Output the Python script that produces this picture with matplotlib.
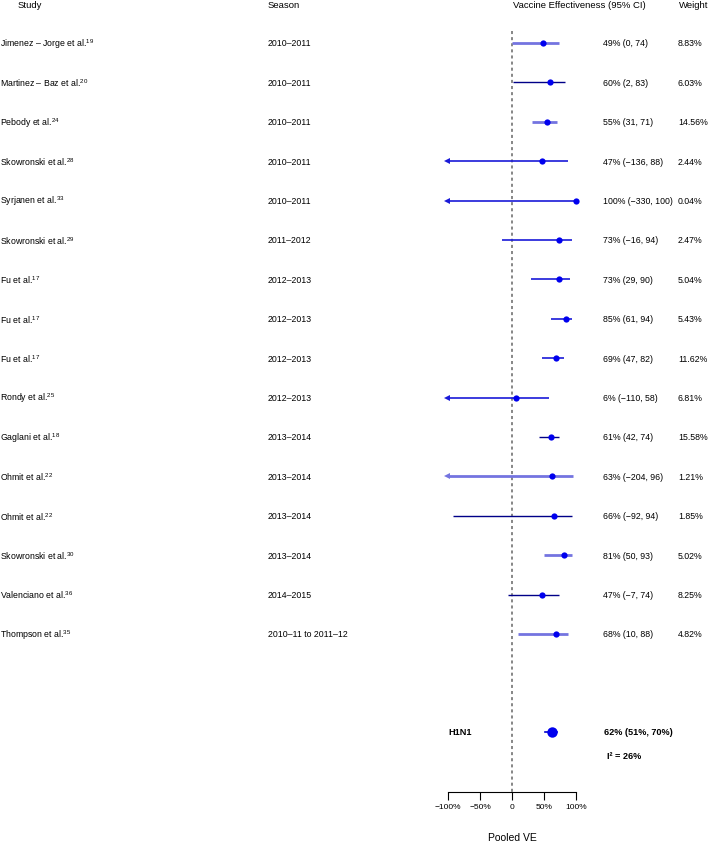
import matplotlib
matplotlib.use("Agg")
import matplotlib.pyplot as plt
import matplotlib.transforms as mtransforms

plt.rcParams['font.family'] = ['Liberation Sans', 'DejaVu Sans']
plt.rcParams['mathtext.fontset'] = 'custom'
plt.rcParams['mathtext.rm'] = 'Liberation Sans'

# donnees
studies = ["Jimenez \u2013 Jorge et al.", "Martinez \u2013 Baz et al.", "Pebody et al.",
           "Skowronski et al.", "Syrjanen et al.", "Skowronski et al.", "Fu et al.",
           "Fu et al.", "Fu et al.", "Rondy et al.", "Gaglani et al.", "Ohmit et al.",
           "Ohmit et al.", "Skowronski et al.", "Valenciano et al.", "Thompson et al."]
refs = ["19", "20", "24", "28", "33", "29", "17", "17", "17", "25", "18", "22", "22", "30", "36", "35"]
seasons = ["2010\u20132011"] * 5 + ["2011\u20132012"] + ["2012\u20132013"] * 4 + \
          ["2013\u20132014"] * 4 + ["2014\u20132015", "2010\u201311 to 2011\u201312"]
ve = [49, 60, 55, 47, 100, 73, 73, 85, 69, 6, 61, 63, 66, 81, 47, 68]
lo = [0, 2, 31, -136, -330, -16, 29, 61, 47, -110, 42, -204, -92, 50, -7, 10]
hi = [74, 83, 71, 88, 100, 94, 90, 94, 82, 58, 74, 96, 94, 93, 74, 88]
weights = ["8.83%", "6.03%", "14.56%", "2.44%", "0.04%", "2.47%", "5.04%", "5.43%",
           "11.62%", "6.81%", "15.58%", "1.21%", "1.85%", "5.02%", "8.25%", "4.82%"]
pooled_label = "H1N1"
pooled_ve, pooled_lo, pooled_hi = 62, 51, 70
i2 = 26
xticks = [-100, -50, 0, 50, 100]
xtick_labels = ["\u2212100%", "\u221250%", "0", "50%", "100%"]

# style des lignes (clair / fonce / moyen)
styles = {"L": ("#7474e0", 2.0), "D": ("#000088", 1.0), "M": ("#1a1ad8", 1.2)}
row_style = ["L", "D", "L", "M", "M", "M", "M", "M", "M", "M", "D", "L", "D", "L", "D", "L"]

W, H = 709, 845
fig = plt.figure(figsize=(W / 100, H / 100), dpi=100)
step = 39.4
y0 = 44
ax_bottom = 793
ax = fig.add_axes([448 / W, (H - ax_bottom) / H, 128 / W, ax_bottom / H])
ax.set_xlim(-100, 100)
ax.set_ylim((ax_bottom - y0) / step, -y0 / step)

# ligne verticale en pointilles
ax.plot([0, 0], [(32 - y0) / step, (ax_bottom - y0) / step], ls=(0, (2, 2)),
        color="#666666", lw=1.1, clip_on=False)

for i in range(len(ve)):
    col, lw = styles[row_style[i]]
    a = max(lo[i], -100)
    b = min(hi[i], 100)
    ax.plot([a, b], [i, i], color=col, lw=lw, clip_on=False, solid_capstyle='butt')
    if lo[i] < -100:
        ax.plot([-101], [i], marker='<', ms=5, color=col, clip_on=False, mew=0)
    ax.plot([ve[i]], [i], marker='o', ms=4.5, color='#0000ee', clip_on=False, mew=0)

yp = (733 - y0) / step
ax.plot([pooled_lo, pooled_hi], [yp, yp], color='#0000cc', lw=1.2)
ax.plot([pooled_ve], [yp], marker='o', ms=7.5, color='#0000ee', mew=0)

for s in ['top', 'left', 'right']:
    ax.spines[s].set_visible(False)
ax.spines['bottom'].set_bounds(-100, 100)
ax.set_xticks(xticks)
ax.set_xticklabels(xtick_labels, fontsize=6)
ax.tick_params(axis='x', length=6, width=0.8, pad=2)
ax.set_yticks([])
ax.patch.set_alpha(0)

trans = mtransforms.blended_transform_factory(fig.transFigure, ax.transData)
fs = 6.3
fs_head = 6.8

def ypos(px):
    return (px - y0) / step

ax.text(18 / W, ypos(6), "Study", transform=trans, fontsize=fs_head, va='center')
ax.text(268 / W, ypos(6), "Season", transform=trans, fontsize=fs_head, va='center')
ax.text(513 / W, ypos(6), "Vaccine Effectiveness (95% CI)", transform=trans, fontsize=fs_head, va='center')
ax.text(679 / W, ypos(6), "Weight", transform=trans, fontsize=fs_head, va='center')

for i in range(len(ve)):
    ax.text(0.5 / W, i, studies[i] + "$^{\\mathrm{" + refs[i] + "}}$", transform=trans,
            fontsize=fs, va='center')
    ax.text(268 / W, i, seasons[i], transform=trans, fontsize=fs, va='center')
    lo_s = str(lo[i]).replace('-', '\u2212')
    ax.text(603 / W, i, "%d%% (%s, %d)" % (ve[i], lo_s, hi[i]), transform=trans,
            fontsize=fs, va='center')
    ax.text(678 / W, i, weights[i], transform=trans, fontsize=fs, va='center')

ax.text(448 / W, yp, pooled_label, transform=trans, fontsize=fs + 0.3, va='center', fontweight='bold')
ax.text(604 / W, yp, "%d%% (%d%%, %d%%)" % (pooled_ve, pooled_lo, pooled_hi), transform=trans,
        fontsize=fs + 0.3, va='center', fontweight='bold')
ax.text(607 / W, ypos(757), "I\u00b2 = %d%%" % i2, transform=trans, fontsize=fs + 0.3,
        va='center', fontweight='bold')

fig.text(512 / W, 1 - 838 / H, "Pooled VE", ha='center', va='center', fontsize=7.5)

fig.savefig("out.png", dpi=100)
